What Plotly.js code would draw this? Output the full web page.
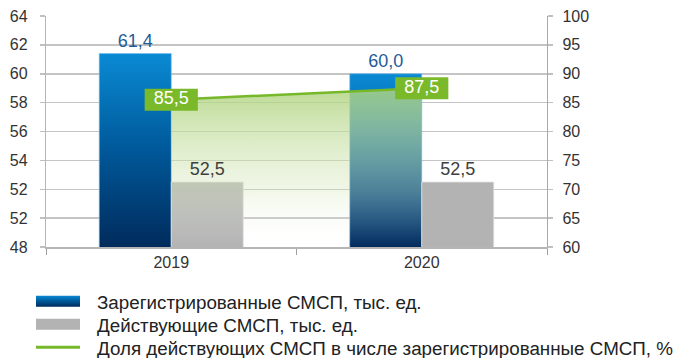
<!DOCTYPE html>
<html><head><meta charset="utf-8">
<script src="https://cdn.plot.ly/plotly-3.0.1.min.js"></script>
<style>html,body{margin:0;padding:0;background:#fff}#chart{width:682px;height:358px}</style>
</head><body><div id="chart"></div>
<script>
const years = ['2019', '2020'];
const registered = [61.4, 60.0];
const active = [52.5, 52.5];
const sharePct = [85.5, 87.5];
const leftTickVals = [48, 50, 52, 54, 56, 58, 60, 62, 64];
const leftTickText = ['48', '52', '52', '54', '56', '58', '60', '62', '64'];
const rightTickVals = [60, 65, 70, 75, 80, 85, 90, 95, 100];
const seriesNames = [
  'Зарегистрированные СМСП, тыс. ед.',
  'Действующие СМСП, тыс. ед.',
  'Доля действующих СМСП в числе зарегистрированные СМСП, %'
];

const FONT = '"Liberation Sans", Arial, Helvetica, sans-serif';
const fmt = v => v.toFixed(1).replace('.', ',');

const traces = [
  {
    type: 'bar', x: years, y: registered, name: seriesNames[0],
    marker: {color: '#0070b8', line: {width: 1, color: 'rgba(120,190,240,0.6)'}},
    texttemplate: '%{y:.1f}', textposition: 'outside', cliponaxis: false,
    textfont: {size: 18, color: '#1f5c99', family: FONT}
  },
  {
    type: 'bar', x: years, y: active, name: seriesNames[1],
    marker: {color: '#b3b3b3', line: {width: 1, color: 'rgba(225,225,225,0.8)'}},
    texttemplate: '%{y:.1f}', textposition: 'outside', cliponaxis: false,
    textfont: {size: 18, color: '#404040', family: FONT}
  },
  {
    type: 'scatter', x: years, y: sharePct, yaxis: 'y2', mode: 'none',
    fill: 'tozeroy', showlegend: false, hoverinfo: 'skip',
    fillgradient: {
      type: 'vertical', start: 60, stop: 87.5,
      colorscale: [[0, 'rgba(255,255,255,0)'], [0.35, 'rgba(215,232,190,0.35)'], [1, 'rgba(176,212,128,0.85)']]
    }
  },
  {
    type: 'scatter', x: years, y: sharePct, yaxis: 'y2', mode: 'lines',
    name: seriesNames[2], line: {color: '#76b82a', width: 2.5}
  },
  {
    // green label boxes with white values
    type: 'scatter', x: years, y: sharePct, yaxis: 'y2', mode: 'markers+text',
    showlegend: false, hoverinfo: 'skip', cliponaxis: false,
    text: sharePct.map(fmt), textposition: 'middle center',
    textfont: {size: 18, color: '#ffffff', family: FONT},
    marker: {symbol: 'line-ew', size: 38, color: '#7ab929', line: {width: 22, color: '#7ab929'}}
  }
];

const layout = {
  width: 682, height: 358,
  margin: {l: 46, r: 135, t: 16, b: 111, pad: 0, autoexpand: false},
  paper_bgcolor: '#ffffff', plot_bgcolor: '#ffffff',
  font: {family: FONT, color: '#333333'},
  separators: ', ',
  barmode: 'group', bargap: 0.425, bargroupgap: 0,
  showlegend: true,
  legend: {
    orientation: 'v', xref: 'container', yref: 'container',
    x: 19 / 682, y: 0.2, xanchor: 'left', yanchor: 'top',
    traceorder: 'normal', itemwidth: 68,
    font: {size: 18.8, color: '#222222', family: FONT},
    bgcolor: 'rgba(0,0,0,0)'
  },
  xaxis: {
    type: 'category', range: [-0.5, 1.5], tickson: 'boundaries',
    ticks: 'outside', ticklen: 6, tickcolor: '#a0a0a0', tickwidth: 1,
    showline: true, linecolor: '#b5b5b5', linewidth: 1.5, showgrid: false,
    tickfont: {size: 16, color: '#333333'}, fixedrange: true
  },
  yaxis: {
    range: [48, 64], tickmode: 'array', tickvals: leftTickVals, ticktext: leftTickText,
    ticks: 'outside', ticklen: 5, tickcolor: '#c0c0c0', tickwidth: 1.5,
    showline: true, linecolor: '#b5b5b5', linewidth: 1.2,
    showgrid: true, gridcolor: '#c4c4c4', gridwidth: 1.5, zeroline: false,
    ticklabelstandoff: 9,
    tickfont: {size: 16, color: '#333333'}, fixedrange: true
  },
  yaxis2: {
    overlaying: 'y', side: 'right', range: [60, 100], tickmode: 'array', tickvals: rightTickVals,
    ticks: 'outside', ticklen: 5, tickcolor: '#c0c0c0', tickwidth: 1.5,
    showline: true, linecolor: '#a8a8a8', linewidth: 1.2,
    showgrid: false, zeroline: false, ticklabelstandoff: 6,
    tickfont: {size: 16, color: '#333333'}, fixedrange: true
  }
};

const NS = 'http://www.w3.org/2000/svg';
function makeGrad(defs, id, attrs, stops) {
  const g = document.createElementNS(NS, 'linearGradient');
  g.setAttribute('id', id);
  Object.entries(attrs).forEach(([k, v]) => g.setAttribute(k, v));
  stops.forEach(([o, c]) => {
    const s = document.createElementNS(NS, 'stop');
    s.setAttribute('offset', o); s.setAttribute('stop-color', c);
    g.appendChild(s);
  });
  defs.appendChild(g);
}
const blueStops = [['0', '#0a8ad4'], ['0.45', '#005d9f'], ['1', '#002b5c']];

const gd = document.getElementById('chart');
Plotly.newPlot(gd, traces, layout, {staticPlot: true, displayModeBar: false}).then(() => {
  const svg = gd.querySelector('.main-svg');
  const defs = svg.querySelector('defs');
  const plotH = gd._fullLayout._size.h;
  try {
    const barTraces = gd.querySelectorAll('.barlayer .trace');
    if (barTraces[0]) barTraces[0].querySelectorAll('.point path').forEach((p, i) => {
      const bb = p.getBBox();
      const id = 'blueBar' + i;
      makeGrad(defs, id, {gradientUnits: 'userSpaceOnUse', x1: 0, y1: bb.y, x2: 0, y2: Math.min(bb.y + bb.height, plotH)}, blueStops);
      p.style.fill = 'url(#' + id + ')';
    });
    makeGrad(defs, 'blueLeg', {x1: 0, y1: 0, x2: 0, y2: 1}, blueStops);
  } catch (e) {}
  try {
    // lift bar value labels above the fill layer (same plot-area translation)
    const sl = gd.querySelectorAll('.scatterlayer');
    const top = sl[sl.length - 1];
    if (top) {
      const lift = document.createElementNS(NS, 'g');
      top.insertBefore(lift, top.lastChild);
      gd.querySelectorAll('.barlayer .bartext').forEach(t => lift.appendChild(t));
    }
  } catch (e) {}
  try {
    const items = gd.querySelectorAll('.legend .traces');
    let barTransform = null;
    items.forEach((it, i) => {
      const bp = it.querySelector('.legendpoints path');
      if (bp && i < 2) {
        bp.setAttribute('d', 'M-22,5.5H22V-5.5H-22Z');
        bp.style.strokeWidth = '0';
        if (i === 0) bp.style.fill = 'url(#blueLeg)';
        barTransform = bp.getAttribute('transform');
      }
    });
    items.forEach((it, i) => {
      if (i === 2) {
        const lp = it.querySelector('path.js-line');
        if (lp) {
          lp.setAttribute('d', 'M-22,0H22');
          if (barTransform) lp.setAttribute('transform', barTransform);
          lp.style.strokeWidth = '3px';
        }
      }
    });
    const targets = [302, 325, 348];
    items.forEach((it, i) => {
      const t = it.querySelector('.legendtext');
      const r = t.getBoundingClientRect();
      const c = r.top + r.height / 2;
      const tr = it.getAttribute('transform') || '';
      const m = tr.match(/translate\(([-\d.e]+)[ ,]+([-\d.e]+)\)/);
      if (m) it.setAttribute('transform', 'translate(' + m[1] + ',' + (parseFloat(m[2]) + targets[i] - c) + ')');
    });
  } catch (e) {}
});
</script>
</body></html>
